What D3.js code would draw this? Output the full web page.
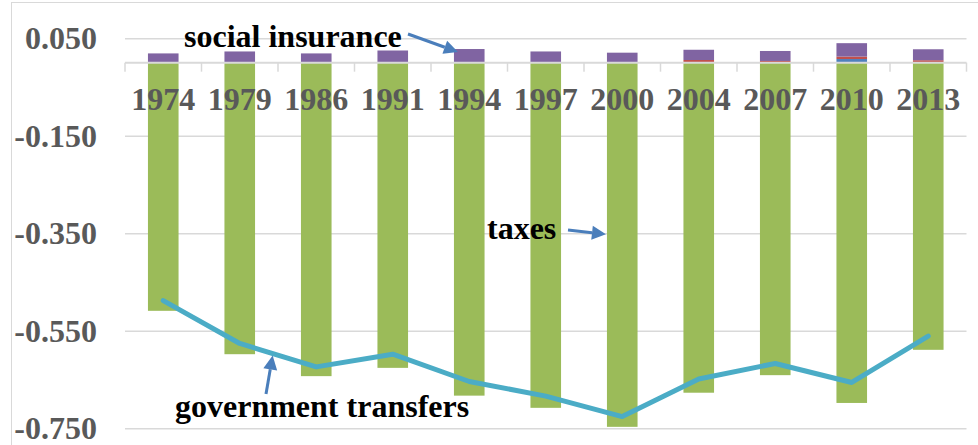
<!DOCTYPE html>
<html>
<head>
<meta charset="utf-8">
<script src="https://cdn.jsdelivr.net/npm/d3@7"></script>
<style>
  body { margin: 0; background: #fff; }
  svg text { font-family: "Liberation Serif", "Times New Roman", serif; font-weight: bold; }
</style>
</head>
<body>
<div id="chart"></div>
<script>
// data
const years = ["1974", "1979", "1986", "1991", "1994", "1997", "2000", "2004", "2007", "2010", "2013"];
const taxes = [-0.509, -0.598, -0.643, -0.626, -0.683, -0.708, -0.747, -0.677, -0.641, -0.698, -0.589];
const blueSeg = [0, 0, 0, 0, 0, 0, 0, 0, 0, 0.0075, 0];
const redSeg = [0, 0.001, 0, 0.001, 0.001, 0.001, 0, 0.0055, 0.0035, 0.005, 0.005];
const socialInsurance = [0.019, 0.022, 0.019, 0.024, 0.027, 0.022, 0.0205, 0.021, 0.0205, 0.0275, 0.0225];
const govTransfers = [-0.488, -0.576, -0.624, -0.598, -0.654, -0.684, -0.726, -0.649, -0.617, -0.656, -0.561];
const yTicks = [0.05, -0.15, -0.35, -0.55, -0.75];

const width = 978, height = 445;
const plot = { left: 125, right: 966.5, top: 38.3, bottom: 428.3 };
const serif = "'Liberation Serif', 'Times New Roman', serif";

const svg = d3.select("#chart")
  .append("svg")
  .attr("width", width)
  .attr("height", height);

// chart frame
svg.append("rect")
  .attr("x", 11.5).attr("y", 2.5)
  .attr("width", width + 20).attr("height", height + 20)
  .attr("fill", "none")
  .attr("stroke", "#d9d9d9")
  .attr("stroke-width", 1);

const x = d3.scaleBand()
  .domain(years)
  .range([plot.left, plot.right])
  .paddingInner(0.6)
  .paddingOuter(0.3);

const y = d3.scaleLinear()
  .domain([-0.75, 0.05])
  .range([plot.bottom, plot.top]);

const cx = d => x(d) + x.bandwidth() / 2;

// gridlines
svg.append("g")
  .attr("transform", `translate(${plot.left},0)`)
  .call(d3.axisLeft(y).tickValues(yTicks).tickSize(-(plot.right - plot.left)).tickFormat(""))
  .call(g => g.select(".domain").remove())
  .selectAll("line")
  .attr("stroke", "#d9d9d9")
  .attr("stroke-width", 1.5);

// y labels
svg.append("g")
  .attr("transform", `translate(${plot.left},0)`)
  .attr("font-family", serif)
  .call(d3.axisLeft(y).tickValues(yTicks).tickSize(0).tickPadding(28)
    .tickFormat(d => d3.format(".3f")(d).replace("\u2212", "-")))
  .call(g => g.select(".domain").remove())
  .selectAll("text")
  .attr("font-size", 32)
  .attr("font-family", serif)
  .attr("font-weight", "bold")
  .attr("fill", "#595959");

// stacked positive segments
const stacks = years.map((yr, i) => {
  const segs = [
    { v: blueSeg[i], color: "#4f81bd" },
    { v: redSeg[i], color: "#c0504d" },
    { v: socialInsurance[i], color: "#8064a2" }
  ];
  let base = 0;
  return segs.map(s => {
    const r = { year: yr, y0: base, y1: base + s.v, color: s.color };
    base += s.v;
    return r;
  });
}).flat().filter(d => d.y1 > d.y0);

svg.append("g")
  .selectAll("rect")
  .data(stacks)
  .join("rect")
  .attr("x", d => x(d.year))
  .attr("width", x.bandwidth())
  .attr("y", d => y(d.y1))
  .attr("height", d => y(d.y0) - y(d.y1))
  .attr("fill", d => d.color);

// taxes bars
svg.append("g")
  .selectAll("rect")
  .data(years)
  .join("rect")
  .attr("x", d => x(d))
  .attr("width", x.bandwidth())
  .attr("y", y(0))
  .attr("height", (d, i) => y(taxes[i]) - y(0))
  .attr("fill", "#9bbb59");

// category axis at zero
const y0 = y(0);
svg.append("line")
  .attr("x1", plot.left).attr("x2", plot.right)
  .attr("y1", y0).attr("y2", y0)
  .attr("stroke", "#d9d9d9")
  .attr("stroke-width", 2);

const bounds = years.map(d => x(d) - x.step() * 0.3).concat([plot.right]);
svg.append("g")
  .selectAll("line")
  .data(bounds)
  .join("line")
  .attr("x1", d => d).attr("x2", d => d)
  .attr("y1", y0).attr("y2", y0 + 9)
  .attr("stroke", "#d9d9d9")
  .attr("stroke-width", 1.5);

svg.append("g")
  .attr("transform", `translate(0,${y0})`)
  .attr("font-family", serif)
  .call(d3.axisBottom(x).tickSize(0).tickPadding(25))
  .call(g => g.select(".domain").remove())
  .selectAll("text")
  .attr("font-size", 32)
  .attr("font-family", serif)
  .attr("font-weight", "bold")
  .attr("fill", "#595959");

// government transfers line
svg.append("path")
  .datum(years)
  .attr("fill", "none")
  .attr("stroke", "#4bacc6")
  .attr("stroke-width", 5)
  .attr("stroke-linejoin", "round")
  .attr("stroke-linecap", "round")
  .attr("d", d3.line()
    .x(d => cx(d))
    .y((d, i) => y(govTransfers[i])));

// annotations
function arrow(x1, y1, x2, y2) {
  const a = Math.atan2(y2 - y1, x2 - x1);
  const L = 14, W = 7;
  const bx = x2 - L * Math.cos(a), by = y2 - L * Math.sin(a);
  svg.append("line")
    .attr("x1", x1).attr("y1", y1).attr("x2", bx).attr("y2", by)
    .attr("stroke", "#4a7ebb").attr("stroke-width", 3);
  svg.append("path")
    .attr("d", `M${x2},${y2}L${bx + W * Math.sin(a)},${by - W * Math.cos(a)}L${bx - W * Math.sin(a)},${by + W * Math.cos(a)}Z`)
    .attr("fill", "#4a7ebb");
}

const label = (tx, ty, s) => svg.append("text")
  .attr("x", tx).attr("y", ty)
  .attr("font-size", 32)
  .attr("font-family", serif)
  .attr("font-weight", "bold")
  .attr("fill", "#000")
  .text(s);

label(184, 47, "social insurance");
arrow(408, 34, x("1994") + 4, y(0.022));

label(487, 239, "taxes");
arrow(568, 230, x("2000") - 1, y(-0.35) + 1);

label(175, 417, "government transfers");
const gx = cx("1979") + 0.43 * x.step();
const gy = y(govTransfers[1] + 0.43 * (govTransfers[2] - govTransfers[1])) + 2;
arrow(266, 394, gx, gy);
</script>
</body>
</html>
